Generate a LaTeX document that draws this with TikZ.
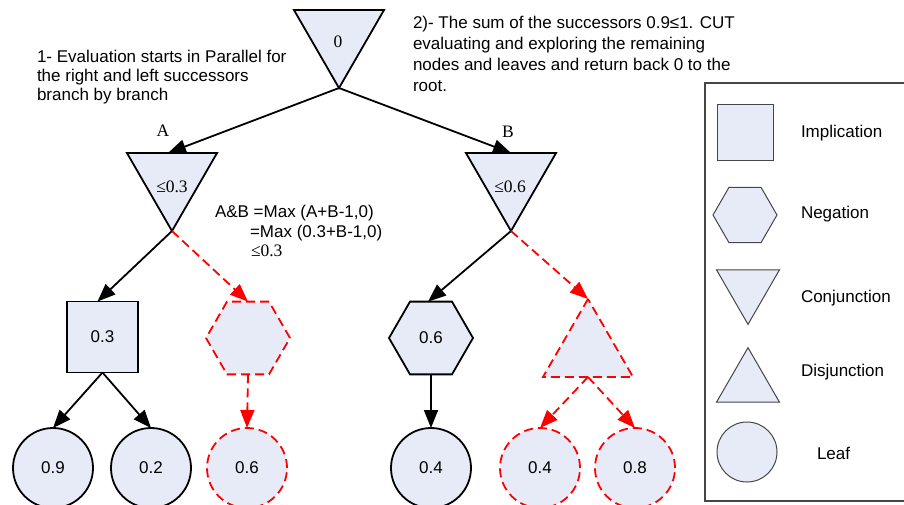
\documentclass[tikz,border=0pt]{standalone}
\usepackage{fontspec}
\setmainfont{Liberation Sans}
\newfontfamily\timesfont{Liberation Serif}
\usetikzlibrary{shapes.geometric,arrows.meta}

\definecolor{shapefill}{RGB}{231,235,248}
\definecolor{cutred}{RGB}{255,0,0}
\definecolor{legendline}{RGB}{70,70,70}

\begin{document}
\begin{tikzpicture}[x=1pt,y=-1pt,
  every node/.style={inner sep=0pt, outer sep=0pt},
  txt/.style={font=\fontsize{17}{20}\selectfont, anchor=base west},
  val/.style={font=\fontsize{17}{20}\selectfont},
  serif/.style={font={\timesfont\fontsize{17.5}{20}\selectfont}},
  solidshape/.style={draw=black, fill=shapefill, line width=1.8pt},
  cutshape/.style={draw=cutred, fill=shapefill, line width=1.8pt, dash pattern=on 9pt off 5pt},
  legshape/.style={draw=legendline, fill=shapefill, line width=1pt},
  conj/.style={regular polygon, regular polygon sides=3, shape border rotate=180},
  disj/.style={regular polygon, regular polygon sides=3},
  neg/.style={regular polygon, regular polygon sides=6},
  impl/.style={rectangle},
  leaf/.style={circle},
  link/.style={line width=1.8pt, -{Triangle[length=18pt,width=14pt]}},
  cutlink/.style={link, draw=cutred, dash pattern=on 9pt off 5pt},
]
\useasboundingbox (0,0) rectangle (904,504);

% annotations
\node[txt] (n1a) at (37,62)  {1- Evaluation starts in Parallel for};
\node[txt] (n1b) at (37,81)  {the right and left successors};
\node[txt] (n1c) at (37,100) {branch by branch};

\node[txt] (n2a) at (413,28) {2)- The sum of the successors 0.9≤1. CUT};
\node[txt] (n2b) at (413,49) {evaluating and exploring the remaining};
\node[txt] (n2c) at (413,70) {nodes and leaves and return back 0 to the};
\node[txt] (n2d) at (413,91) {root.};

\node[txt] (f1) at (215,217) {A\&B =Max (A+B-1,0)};
\node[txt] (f2) at (250,237) {=Max (0.3+B-1,0)};
\node[serif, anchor=base west] (f3) at (251,256) {≤0.3};

% tree nodes
\node[conj, solidshape, minimum size=104pt] (root) at (339,36) {};
\node[serif] (rootv) at (338,42) {0};

\node[conj, solidshape, minimum size=104pt] (A) at (172,179) {};
\node[serif] (Av) at (172,187) {≤0.3};
\node[serif] (Alab) at (163,131) {A};

\node[conj, solidshape, minimum size=104pt] (B) at (511,179) {};
\node[serif] (Bv) at (510,187) {≤0.6};
\node[serif] (Blab) at (508,132) {B};

\node[impl, solidshape, minimum size=71pt, val] (imp) at (102.5,337) {0.3};
\node[neg, cutshape, minimum size=84pt] (negA) at (248,338) {};
\node[neg, solidshape, minimum size=84pt, val] (negB) at (431,338) {0.6};
\node[disj, cutshape, minimum size=104pt] (dis) at (588,351) {};

\node[leaf, solidshape, minimum size=80pt, val] (l1) at (53,468)  {0.9};
\node[leaf, solidshape, minimum size=80pt, val] (l2) at (151,468) {0.2};
\node[leaf, cutshape,   minimum size=80pt, val] (l3) at (247,468) {0.6};
\node[leaf, solidshape, minimum size=80pt, val] (l4) at (431,468) {0.4};
\node[leaf, cutshape,   minimum size=80pt, val] (l5) at (540,468) {0.4};
\node[leaf, cutshape,   minimum size=80pt, val] (l6) at (635,468) {0.8};

% connectors
\draw[link] (root.corner 1) -- ([xshift=-4pt]A.north);
\draw[link] (root.corner 1) -- (B.north);
\draw[link] (A.corner 1) -- ([xshift=-5pt]imp.north);
\draw[cutlink] (A.corner 1) -- (negA.north);
\draw[link] (B.corner 1) -- ([xshift=-3pt]negB.north);
\draw[cutlink] (B.corner 1) -- (dis.corner 1);
\draw[link] (imp.south) -- (l1.north);
\draw[link] (imp.south) -- (l2.north);
\draw[cutlink] (negA.south) -- (l3.north);
\draw[link] (negB.south) -- (l4.north);
\draw[cutlink] (dis.south) -- (l5.north);
\draw[cutlink] (dis.south) -- (l6.north);

% legend
\draw[legendline, line width=1.2pt] (705,83) rectangle (912,501);
\node[impl, legshape, minimum size=56pt] (kimp) at (745,132) {};
\node[neg,  legshape, minimum size=64pt] (kneg) at (745,215) {};
\node[conj, legshape, minimum size=72.7pt] (kconj) at (748,288) {};
\node[disj, legshape, minimum size=72.7pt] (kdis) at (748,384) {};
\node[leaf, legshape, minimum size=60pt] (kleaf) at (747,452) {};

\node[txt] (timp)  at (801,137) {Implication};
\node[txt] (tneg)  at (801,218) {Negation};
\node[txt] (tconj) at (801,302) {Conjunction};
\node[txt] (tdis)  at (801,376) {Disjunction};
\node[txt] (tleaf) at (817,459) {Leaf};
\end{tikzpicture}
\end{document}
